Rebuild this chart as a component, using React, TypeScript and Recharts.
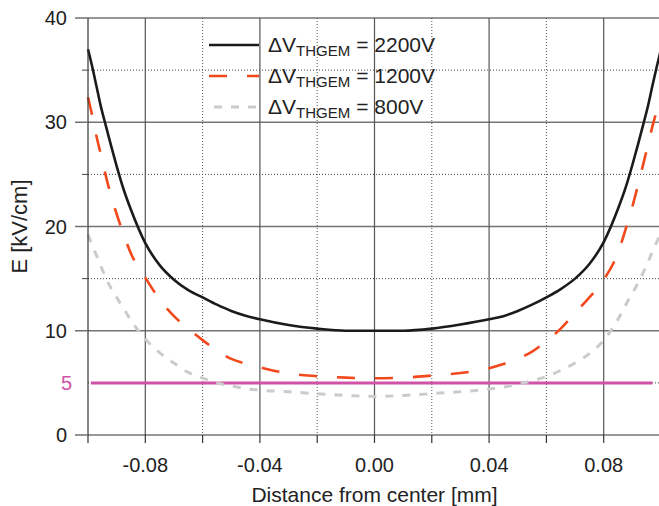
import React from 'react';
import { LineChart, Line, XAxis, YAxis, CartesianGrid, ReferenceLine, Legend } from 'recharts';

// ---- data ----
const DISTANCE = [
  -0.1, -0.0985, -0.097, -0.0955, -0.094, -0.092, -0.09, -0.0875, -0.085, -0.08, -0.075, -0.07,
  -0.065, -0.06, -0.055, -0.05, -0.045, -0.04, -0.03, -0.02, -0.01, 0, 0.01, 0.02, 0.03, 0.04,
  0.045, 0.05, 0.055, 0.06, 0.065, 0.07, 0.075, 0.08, 0.085, 0.0875, 0.09, 0.092, 0.094, 0.0955,
  0.097, 0.0985, 0.1,
];
const E_2200 = [
  37.0, 35.3, 33.4, 31.5, 29.9, 27.8, 25.8, 23.5, 21.6, 18.4, 16.3, 14.9,
  13.9, 13.2, 12.5, 11.9, 11.45, 11.1, 10.55, 10.2, 10.0, 10.0, 10.0, 10.2, 10.6, 11.1,
  11.4, 11.9, 12.5, 13.2, 14.0, 15.0, 16.4, 18.5, 21.7, 23.6, 25.9, 27.9, 30.0, 31.6,
  33.5, 35.3, 37.0,
];
const E_1200 = [
  32.4, 30.6, 28.6, 26.9, 25.1, 23.0, 21.2, 19.2, 17.4, 15.1, 13.0, 11.4,
  10.2, 9.1, 8.1, 7.3, 6.85, 6.5, 5.9, 5.65, 5.5, 5.45, 5.5, 5.7, 5.95, 6.4,
  6.8, 7.3, 8.0, 9.0, 10.2, 11.7, 13.2, 14.9, 17.5, 19.6, 21.9, 24.0, 26.2, 27.9,
  29.6, 31.1, 32.6,
];
const E_800 = [
  19.2, 18.2, 17.2, 16.2, 15.2, 14.1, 13.2, 12.1, 11.0, 9.2, 7.9, 6.9,
  6.0, 5.45, 5.0, 4.7, 4.45, 4.3, 4.15, 3.95, 3.8, 3.7, 3.8, 3.97, 4.15, 4.4,
  4.6, 4.85, 5.2, 5.6, 6.2, 6.9, 7.8, 9.1, 11.1, 12.4, 13.6, 14.6, 15.7, 16.6,
  17.6, 18.5, 19.4,
];
const SERIES_LABELS = ['2200V', '1200V', '800V'];
const THRESHOLD = 5;
const THRESHOLD_RANGE = [-0.099, 0.097];

const X_TICKS = [-0.1, -0.08, -0.06, -0.04, -0.02, 0, 0.02, 0.04, 0.06, 0.08, 0.1];
const X_LABELED = [-0.08, -0.04, 0, 0.04, 0.08];
const Y_TICKS = [0, 5, 10, 15, 20, 25, 30, 35, 40];
const Y_LABELED = [0, 5, 10, 20, 30, 40];
const GRID_Y_MAJOR = [10, 20, 30, 40];
const GRID_Y_MINOR = [5, 15, 25, 35];
const GRID_X_MAJOR = [-0.08, -0.04, 0, 0.04, 0.08];
const GRID_X_MINOR = [-0.06, -0.02, 0.02, 0.06];

// ---- styles ----
const FONT = '"Liberation Sans", Arial, Helvetica, sans-serif';
const PINK = '#cf52a6';
const TEXT = '#222';
const Y_TICK_SIZE = 13;
const Y_TICK_MARGIN = 8;

const SERIES = [
  { key: 'v2200', label: SERIES_LABELS[0], color: '#1b1b1b', dash: undefined as string | undefined, width: 2.6 },
  { key: 'v1200', label: SERIES_LABELS[1], color: '#f2491c', dash: '18 20', width: 2.6 },
  { key: 'v800', label: SERIES_LABELS[2], color: '#cbcbcb', dash: '8 9', width: 3 },
];

const data = DISTANCE.map((d, i) => ({ d, v2200: E_2200[i], v1200: E_1200[i], v800: E_800[i] }));

const YTick = (props: any) => {
  const { x, y, payload } = props;
  const v = payload.value;
  const axisX = x + Y_TICK_SIZE + Y_TICK_MARGIN;
  const major = v % 10 === 0;
  const isThreshold = v === THRESHOLD;
  return (
    <g>
      {!isThreshold && (
        <line
          x1={axisX - (major ? Y_TICK_SIZE : 6)}
          x2={axisX}
          y1={y}
          y2={y}
          stroke={major ? '#707070' : '#444'}
          strokeWidth={major ? 1.5 : 1}
        />
      )}
      {Y_LABELED.includes(v) && (
        <text
          x={x + (isThreshold ? 5 : 0)}
          y={y}
          dy="0.36em"
          textAnchor="end"
          fontSize={20}
          fontFamily={FONT}
          fill={isThreshold ? PINK : TEXT}
        >
          {v}
        </text>
      )}
    </g>
  );
};

const LegendContent = () => (
  <svg width={260} height={100} style={{ overflow: 'visible' }}>
    {SERIES.map((s, i) => {
      const cy = 17 + i * 31;
      return (
        <g key={s.key}>
          <line
            x1={s.key === 'v800' ? 9 : 4}
            x2={54}
            y1={cy}
            y2={cy}
            stroke={s.color}
            strokeWidth={s.width}
            strokeDasharray={s.dash}
          />
          <text x={63} y={cy + 7} fontSize={21} fill={TEXT} fontFamily={FONT}>
            ΔV
            <tspan fontSize={15} dy={4}>THGEM</tspan>
            <tspan dy={-4} dx={6}>= {s.label}</tspan>
          </text>
        </g>
      );
    })}
  </svg>
);

export default function App() {
  return (
    <div style={{ position: 'absolute', left: 0, top: 0, width: 659, height: 506, overflow: 'hidden', background: '#fff' }}>
      <LineChart width={670} height={506} data={data} margin={{ top: 18, right: 9, left: 28, bottom: 4 }}>
        <CartesianGrid horizontal vertical={false} horizontalValues={GRID_Y_MAJOR} stroke="#747474" strokeWidth={1.5} />
        <CartesianGrid horizontal vertical={false} horizontalValues={GRID_Y_MINOR} stroke="#444" strokeDasharray="1 2" />
        <CartesianGrid horizontal={false} vertical verticalValues={GRID_X_MAJOR} stroke="#555" strokeWidth={1.2} />
        <CartesianGrid horizontal={false} vertical verticalValues={GRID_X_MINOR} stroke="#555" strokeDasharray="1 2" />
        <XAxis
          dataKey="d"
          type="number"
          domain={[-0.1, 0.1]}
          ticks={X_TICKS}
          tickFormatter={(v: number) => (X_LABELED.includes(v) ? v.toFixed(2) : '')}
          tickSize={8}
          tickMargin={15}
          height={67}
          axisLine={{ stroke: '#333', strokeWidth: 1.2 }}
          tickLine={{ stroke: '#333', strokeWidth: 1.2 }}
          tick={{ fontSize: 20, fill: TEXT, fontFamily: FONT }}
          label={{ value: 'Distance from center [mm]', position: 'insideBottom', offset: 0, style: { fontSize: 21, fill: TEXT, fontFamily: FONT } }}
        />
        <YAxis
          type="number"
          domain={[0, 40]}
          ticks={Y_TICKS}
          width={60}
          tickSize={Y_TICK_SIZE}
          tickMargin={Y_TICK_MARGIN}
          tickLine={false}
          axisLine={{ stroke: '#333', strokeWidth: 1.2 }}
          tick={<YTick />}
          label={{
            value: 'E [kV/cm]',
            angle: -90,
            position: 'insideLeft',
            offset: -9,
            style: { fontSize: 22, fill: TEXT, fontFamily: FONT, textAnchor: 'middle' },
          }}
        />
        <Legend
          content={<LegendContent />}
          layout="vertical"
          align="center"
          verticalAlign="middle"
          wrapperStyle={{ left: 205, top: 28, width: 260, height: 100 }}
        />
        <ReferenceLine
          segment={[
            { x: THRESHOLD_RANGE[0], y: THRESHOLD },
            { x: THRESHOLD_RANGE[1], y: THRESHOLD },
          ]}
          stroke={PINK}
          strokeWidth={3}
        />
        {SERIES.map((s) => (
          <Line
            key={s.key}
            type="monotone"
            dataKey={s.key}
            name={s.label}
            stroke={s.color}
            strokeWidth={s.width}
            strokeDasharray={s.dash}
            dot={false}
            activeDot={false}
            isAnimationActive={false}
          />
        ))}
      </LineChart>
    </div>
  );
}
